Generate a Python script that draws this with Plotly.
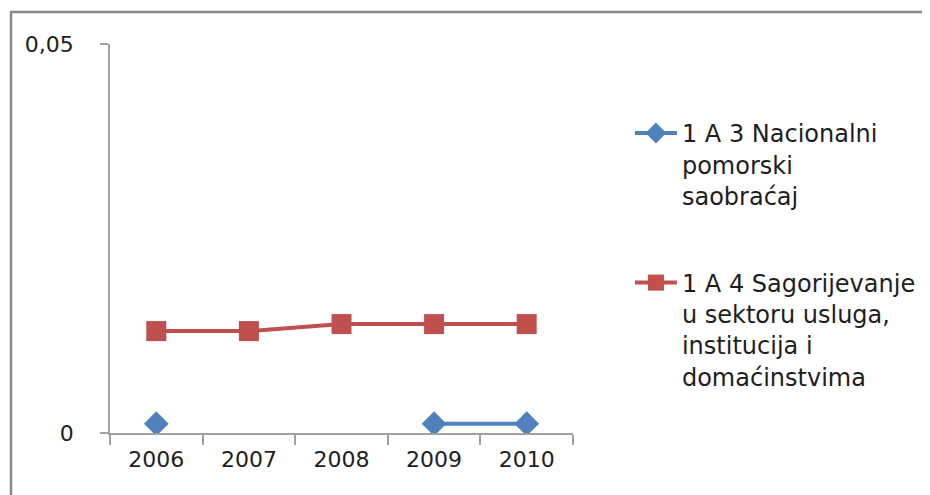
import plotly.graph_objects as go

years = ["2006", "2007", "2008", "2009", "2010"]
pomorski = [0.0012, None, None, 0.0012, 0.0012]
sagorijevanje = [0.0131, 0.0131, 0.0140, 0.0140, 0.0140]
name_pomorski = "1 A 3 Nacionalni<br>pomorski<br>saobraćaj"
name_sagor = "1 A 4 Sagorijevanje<br>u sektoru usluga,<br>institucija i<br>domaćinstvima"
ytick_vals = [0, 0.05]
ytick_text = ["0", "0,05"]

FONT = "DejaVu Sans"
fig = go.Figure()
fig.add_trace(go.Scatter(
    x=years, y=pomorski, name=name_pomorski, mode="lines+markers",
    legendgroup="g1",
    line=dict(color="#4F81BD", width=4),
    marker=dict(symbol="diamond", size=19, color="#4F81BD"),
))
fig.add_trace(go.Scatter(
    x=years, y=sagorijevanje, name=name_sagor, mode="lines+markers",
    legendgroup="g2",
    line=dict(color="#C0504D", width=4),
    marker=dict(symbol="square", size=20, color="#C0504D"),
))

# page body has an 8px margin, so layout coordinates are offset by 8
OFF = 8
L, R, T, B = 110 - OFF, 930 - (573 - OFF), 44 - OFF, 495 - (433 - OFF)
W, H = 930 - L - R, 495 - T - B

fig.update_layout(
    width=930, height=495,
    margin=dict(l=L, r=R, t=T, b=B, autoexpand=False),
    paper_bgcolor="white", plot_bgcolor="white",
    font=dict(family=FONT, size=22, color="#1E1E1E"),
    showlegend=True,
    legend=dict(x=1.123, y=0.828, xanchor="left", yanchor="top",
                valign="top", tracegroupgap=53, itemwidth=42,
                font=dict(family=FONT, size=24, color="#1E1E1E"),
                bgcolor="rgba(0,0,0,0)"),
    xaxis=dict(type="category", range=[-0.5, 4.5], showline=True,
               linecolor="#A0A0A0", linewidth=1.5, ticks="outside",
               tickson="boundaries", ticklen=10, tickcolor="#A0A0A0",
               tickwidth=1.5, showgrid=False, zeroline=False,
               ticklabelstandoff=6, automargin=False),
    yaxis=dict(range=[0, 0.05], tickvals=ytick_vals, ticktext=ytick_text,
               showline=True, linecolor="#A0A0A0", linewidth=1.5,
               ticks="outside", ticklen=8, tickcolor="#A0A0A0", tickwidth=1.5,
               showgrid=True, gridcolor="#A0A0A0", gridwidth=1.5,
               zeroline=False, ticklabelstandoff=22, automargin=False),
)

# outer chart frame
fig.add_shape(type="rect", xref="paper", yref="paper",
              x0=(11 - OFF - L) / W, x1=(925 - OFF - L) / W,
              y0=-0.3, y1=1 + (T - (12 - OFF)) / H,
              line=dict(color="#888888", width=2.5), layer="below")

fig.write_html("out.html")
